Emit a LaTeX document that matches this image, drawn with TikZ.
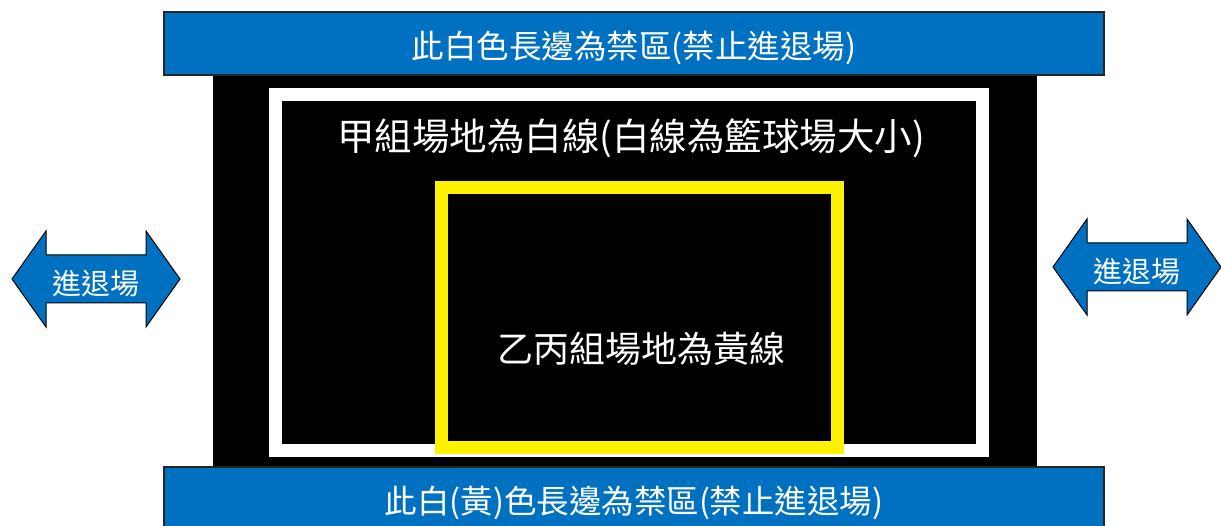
\documentclass[tikz,border=0pt]{standalone}
\usepackage{fontspec}
\newfontfamily\cjk{Noto Sans CJK TC}
\definecolor{barblue}{HTML}{0070C0}
\def\fsize#1{\cjk\fontsize{#1}{#1}\selectfont}

\begin{document}
\begin{tikzpicture}[x=1pt,y=-1pt]
    \tikzstyle{bar}=[draw=black!85,fill=barblue,line width=1.2pt,minimum width=940pt,minimum height=63pt,inner sep=0pt]
    \tikzstyle{court}=[fill=black,minimum width=824pt,minimum height=392pt,inner sep=0pt]
    \tikzstyle{line box}=[draw,line width=13pt,inner sep=0pt]
    \tikzstyle{label}=[text=white,inner sep=0pt]
    \tikzstyle{entry}=[draw=black,fill=barblue,line width=1pt,line join=miter]

    \useasboundingbox (0,0) rectangle (1221,526);

    % Court and the two fields
    \node[court] (court) at (625,271) {};
    \node[line box,draw=white,minimum width=707pt,minimum height=355pt] (white) at (628.5,272.5) {};
    \node[line box,draw=yellow,minimum width=396pt,minimum height=259.5pt] (yellow) at (639.5,317.25) {};

    % Long sides
    \node[bar] (top) at (634,43.5) {};
    \node[bar] (bottom) at (634,498.5) {};
    \node[label,font=\fsize{32.5}] (top text) at (634,47.5) {此白色長邊為禁區(禁止進退場)};
    \node[label,font=\fsize{32.5}] (bottom text) at (634,502.5) {此白(黃)色長邊為禁區(禁止進退場)};

    % Field labels
    \node[label,font=\fsize{37.5}] (white text) at (631,138) {甲組場地為白線(白線為籃球場大小)};
    \node[label,font=\fsize{36}] (yellow text) at (641,349) {乙丙組場地為黃線};

    % Entry arrows at both short sides
    \foreach \name/\cx/\cy in {left/96/279, right/1137/267}
    {
        \draw[entry] (\cx-84,\cy) -- (\cx-50,\cy-48) -- (\cx-50,\cy-24) -- (\cx+50,\cy-24)
            -- (\cx+50,\cy-48) -- (\cx+84,\cy) -- (\cx+50,\cy+48) -- (\cx+50,\cy+24)
            -- (\cx-50,\cy+24) -- (\cx-50,\cy+48) -- cycle;
        \node[label,font=\fsize{29}] (\name\space arrow) at (\cx,\cy+5) {進退場};
    }
\end{tikzpicture}
\end{document}
